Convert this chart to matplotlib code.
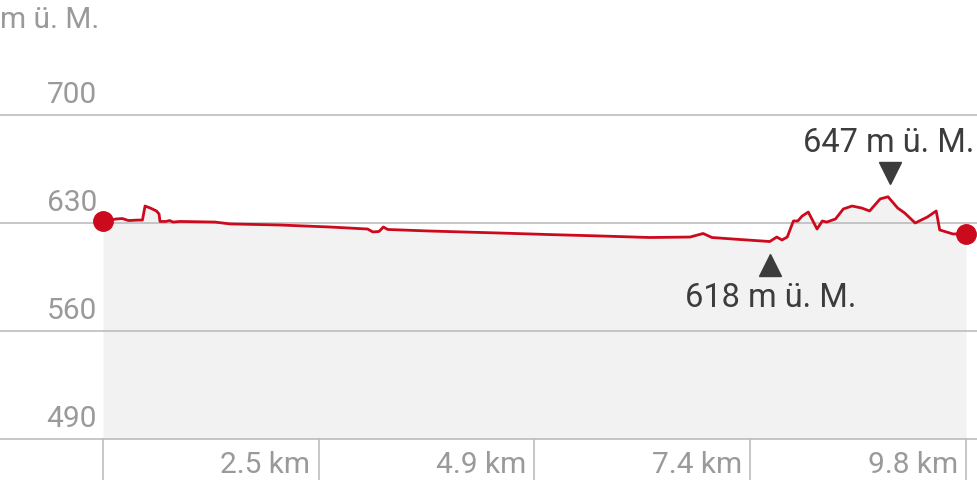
import numpy as np
import matplotlib.pyplot as plt
from matplotlib.transforms import offset_copy

# elevation profile
dist_km = [0.00, 0.08, 0.15, 0.22, 0.29, 0.40, 0.45, 0.48, 0.54, 0.61,
           0.64, 0.65, 0.72, 0.76, 0.80, 0.88, 1.28, 1.45, 2.02, 2.59,
           3.02, 3.08, 3.15, 3.20, 3.25, 3.73, 4.53, 5.10, 5.67, 6.24,
           6.70, 6.85, 6.95, 7.27, 7.61, 7.69, 7.75, 7.81, 7.88, 7.93,
           7.98, 8.05, 8.15, 8.21, 8.26, 8.36, 8.45, 8.55, 8.66, 8.75,
           8.87, 8.96, 9.07, 9.15, 9.27, 9.41, 9.51, 9.55, 9.70, 9.85]
elev_m = [631.3, 631.9, 632.6, 632.9, 631.6, 631.9, 631.9, 641.0, 639.7, 637.8,
          635.8, 631.0, 631.0, 631.6, 630.6, 631.0, 630.6, 629.4, 628.7, 627.4,
          626.1, 624.2, 624.5, 627.4, 625.8, 624.8, 623.5, 622.5, 621.6, 620.6,
          620.9, 623.2, 620.6, 619.3, 618.0, 620.9, 619.0, 620.9, 631.3, 631.3,
          634.5, 637.1, 626.1, 631.3, 630.6, 632.6, 639.1, 641.0, 639.7, 637.8,
          645.6, 647.0, 639.7, 636.5, 630.0, 633.9, 637.8, 625.5, 622.9, 622.9]

y_ticks = [490, 560, 630, 700]
total_km = 9.85
x_ticks = [total_km / 4, total_km / 2, 3 * total_km / 4, total_km]
x_labels = ['2.5 km', '4.9 km', '7.4 km', '9.8 km']
unit = 'm ü. M.'

red = '#cc0a1e'
grid = '#bdbdbd'
label_gray = '#9a9a9a'
dark = '#3c3c3c'
fs_axis = 21.5
fs_note = 23.5

plt.rcParams['font.family'] = ['Roboto', 'DejaVu Sans']

fig = plt.figure(figsize=(9.78, 4.8), dpi=100)
ax = fig.add_axes([0, 0, 1, 1])

# pixel mapping: 0 km at 103 px, end at 966 px; 630 m at y=223, 70 m per 108 px
px_per_km = 863 / total_km
ax.set_xlim(-103 / px_per_km, total_km + 12 / px_per_km)
px_per_m = 108 / 70
ax.set_ylim(630 - (480 - 223) / px_per_m, 630 + 223 / px_per_m)
ax.axis('off')

# area under profile
ax.fill_between(dist_km, elev_m, 490, color='#f2f2f2', lw=0, zorder=1)

# horizontal grid lines and labels
for yt in y_ticks:
    ax.axhline(yt, color=grid, lw=1.2, zorder=2)
    ax.annotate(str(yt), (97, yt), xycoords=('figure pixels', 'data'),
                xytext=(0, 4.5), textcoords='offset points',
                ha='right', va='bottom', fontsize=fs_axis, color=label_gray)

# vertical tick marks below the axis
for xt in [0] + x_ticks:
    ax.plot([xt, xt], [490, ax.get_ylim()[0]], color=grid, lw=1.2, zorder=2)
for xt, lab in zip(x_ticks, x_labels):
    ax.annotate(lab, (xt, 490), xytext=(-6, -19), textcoords='offset points',
                ha='right', va='center', fontsize=fs_axis, color=label_gray)

ax.text(0, 480 - 20, unit, transform=None, ha='left', va='center',
        fontsize=fs_axis, color=label_gray)

# profile line and end points
ax.plot(dist_km, elev_m, color=red, lw=2, zorder=3)
ax.plot([dist_km[0], dist_km[-1]], [elev_m[0], elev_m[-1]], 'o',
        color=red, ms=14, zorder=4, clip_on=False)

# min / max markers
i_min = int(np.argmin(elev_m))
i_max = int(np.argmax(elev_m))
below = offset_copy(ax.transData, fig=fig, x=0, y=-17, units='points')
above = offset_copy(ax.transData, fig=fig, x=1.5, y=17, units='points')
ax.plot([dist_km[i_min]], [elev_m[i_min]], '^', color=dark, ms=16,
        transform=below, zorder=4)
ax.plot([dist_km[i_max]], [elev_m[i_max]], 'v', color=dark, ms=16,
        transform=above, zorder=4)
ax.annotate('%d %s' % (round(elev_m[i_min]), unit), (dist_km[i_min], elev_m[i_min]),
            xytext=(1, -41), textcoords='offset points', ha='center', va='center',
            fontsize=fs_note, color=dark)
ax.annotate('%d %s' % (round(elev_m[i_max]), unit), (dist_km[i_max], elev_m[i_max]),
            xytext=(0.5, 39), textcoords='offset points', ha='center', va='center',
            fontsize=fs_note, color=dark)

fig.savefig('out.png', dpi=100)
